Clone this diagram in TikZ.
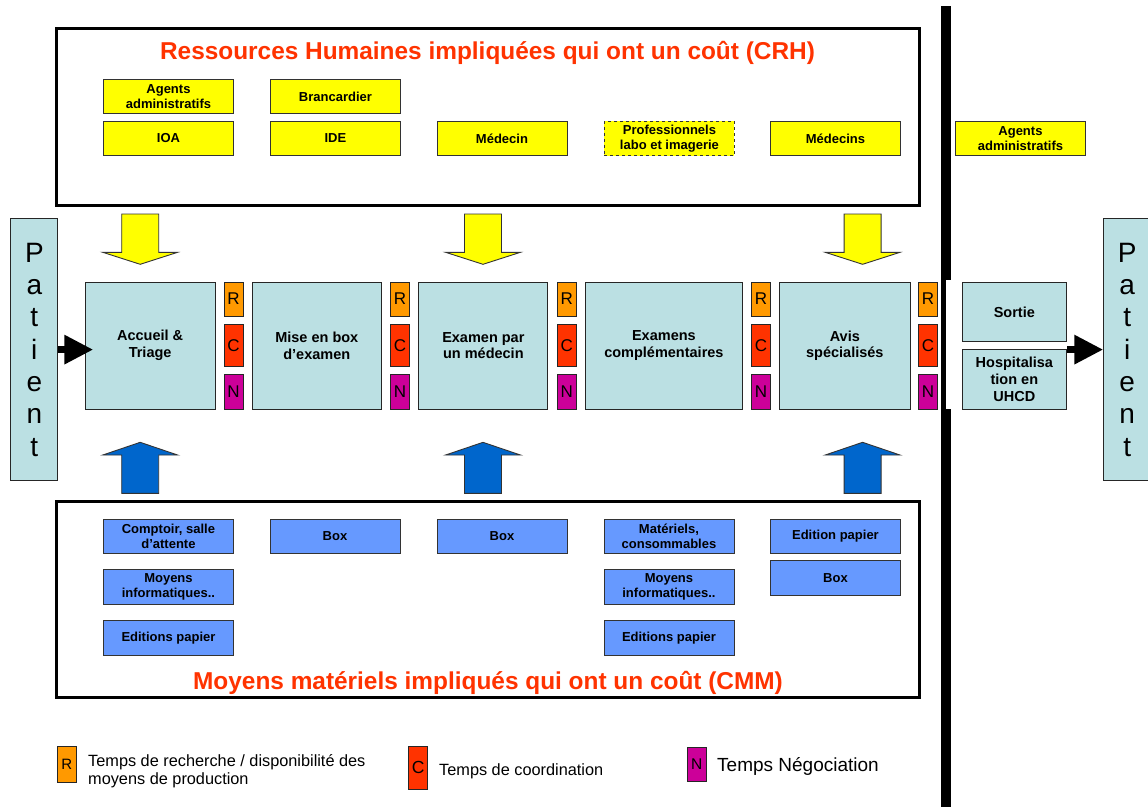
\documentclass[tikz,border=0pt]{standalone}
\usepackage{fontspec}
\setmainfont{Liberation Sans}
\usetikzlibrary{arrows.meta}
\definecolor{procblue}{HTML}{BBE0E3}
\definecolor{boxblue}{HTML}{6699FF}
\definecolor{arrowblue}{HTML}{0066CC}
\definecolor{ryellow}{HTML}{FFFF00}
\definecolor{rorange}{HTML}{FF9900}
\definecolor{cred}{HTML}{FF3300}
\definecolor{nmag}{HTML}{CC0099}
\definecolor{titlered}{HTML}{FF3300}
\definecolor{edgegray}{HTML}{333333}
\begin{document}
\begin{tikzpicture}[x=1pt,y=-1pt,
  frame/.style={draw=black, line width=3pt, anchor=north west, inner sep=0pt},
  titletext/.style={text=titlered, font=\bfseries\fontsize{24.4}{28}\selectfont, anchor=base, inner sep=0pt},
  smallbox/.style={draw=edgegray, line width=0.9pt, minimum width=130pt, minimum height=34.6pt,
     font=\bfseries\fontsize{13}{14.5}\selectfont, align=center, inner sep=0pt, anchor=north west},
  ybox/.style={smallbox, fill=ryellow},
  bbox/.style={smallbox, fill=boxblue},
  proc/.style={draw=black!85, line width=0.9pt, fill=procblue, minimum height=127pt,
     font=\bfseries\fontsize{14.5}{16.8}\selectfont, align=center, inner sep=0pt, anchor=north west},
  rcnbox/.style={draw=black!85, line width=0.8pt, minimum width=19.2pt, inner sep=0pt,
     font=\fontsize{17}{17}\selectfont, anchor=north west},
  legbox/.style={draw=black!85, line width=0.8pt, minimum width=19pt, minimum height=34pt, inner sep=0pt,
     font=\fontsize{15}{15}\selectfont, anchor=north west},
  patient/.style={draw=black!85, line width=0.9pt, fill=procblue, minimum width=47pt, minimum height=261.7pt,
     font=\fontsize{28}{32.3}\selectfont, align=center, inner sep=0pt, anchor=north west},
  bigarrow/.style={line width=7.3pt, -{Triangle[length=29pt,width=27.6pt]}},
  legtext/.style={font=\fontsize{16.3}{18}\selectfont, align=left, inner sep=0pt},
  downblock/.pic={\filldraw[draw=edgegray, fill=ryellow, line width=0.9pt]
     (-18.5,-50.3) -- (18.5,-50.3) -- (18.5,-12) -- (37.4,-12) -- (0,0) -- (-37.4,-12) -- (-18.5,-12) -- cycle;},
  upblock/.pic={\filldraw[draw=edgegray, fill=arrowblue, line width=0.9pt]
     (0,0) -- (37.4,12.7) -- (18.5,12.7) -- (18.5,51) -- (-18.5,51) -- (-18.5,12.7) -- (-37.4,12.7) -- cycle;}
]
\clip (0,0) rectangle (1148,807);
\fill[white] (0,0) rectangle (1148,807);

% vertical separator
\fill[black] (941,6) rectangle (951,807);
\fill[white] (946.2,280) rectangle (952,409.3);

% frames
\node[frame, minimum width=863pt, minimum height=177pt] (crh) at (55,27) {};
\node[frame, minimum width=863pt, minimum height=196pt] (cmm) at (55,500) {};
\node[titletext] (crhtitle) at (487.5,59) {Ressources Humaines impliquées qui ont un coût (CRH)};
\node[titletext] (cmmtitle) at (488,689) {Moyens matériels impliqués qui ont un coût (CMM)};

% human resources
\node[ybox] (agents1) at (103,78.7) {Agents\\administratifs};
\node[ybox] (branc) at (270,78.7) {Brancardier};
\node[ybox] (ioa) at (103,120.7) {IOA};
\node[ybox] (ide) at (270,120.7) {IDE};
\node[ybox] (medecin) at (436.5,120.7) {Médecin};
\node[ybox, dashed] (prof) at (604,120.7) {Professionnels\\labo et imagerie};
\node[ybox] (medecins) at (770,120.7) {Médecins};
\node[ybox] (agents2) at (955,120.7) {Agents\\administratifs};

% material resources
\node[bbox] (comptoir) at (103,518.7) {Comptoir, salle\\d’attente};
\node[bbox] (moyens1) at (103,569.3) {Moyens\\informatiques..};
\node[bbox] (editions1) at (103,620) {Editions papier};
\node[bbox] (box1) at (269.5,518.7) {Box};
\node[bbox] (box2) at (436.5,518.7) {Box};
\node[bbox] (materiels) at (603.5,518.7) {Matériels,\\consommables};
\node[bbox] (moyens2) at (603.5,569.3) {Moyens\\informatiques..};
\node[bbox] (editions2) at (603.5,620) {Editions papier};
\node[bbox] (edition) at (770,518.7) {Edition papier};
\node[bbox] (box3) at (770,560.3) {Box};

% block arrows
\pic at (140.2,264.3) {downblock};
\pic at (483,264.3) {downblock};
\pic at (862.6,264.3) {downblock};
\pic at (140.2,442.3) {upblock};
\pic at (483,442.3) {upblock};
\pic at (862.6,442.3) {upblock};

% process
\node[proc, minimum width=130pt] (accueil) at (84.7,281.7) {Accueil \&\\Triage};
\node[proc, minimum width=129.5pt] (mise) at (251.6,281.7) {Mise en box\\d’examen};
\node[proc, minimum width=129pt] (examen) at (418.4,281.7) {Examen par\\un médecin};
\node[proc, minimum width=157.5pt] (compl) at (584.7,281.7) {Examens\\complémentaires};
\node[proc, minimum width=130.2pt] (avis) at (779.3,281.7) {Avis\\spécialisés};

\foreach \x [count=\i] in {223.5,390,556.8,751,918} {
  \node[rcnbox, fill=rorange, minimum height=34pt] (r\i) at (\x,281.7) {R};
  \node[rcnbox, fill=cred, minimum height=42pt] (c\i) at (\x,324) {C};
  \node[rcnbox, fill=nmag, minimum height=34.4pt] (n\i) at (\x,374.3) {N};
}

\node[proc, minimum width=104.6pt, minimum height=59.6pt] (sortie) at (961.6,281.7) {Sortie};
\node[proc, minimum width=104.6pt, minimum height=59.4pt] (hosp) at (961.6,349.3) {Hospitalisa\\tion en\\UHCD};

% patients
\node[patient] (patL) at (10.4,218.3) {P\\a\\t\\i\\e\\n\\t};
\node[patient] (patR) at (1103.3,218.3) {P\\a\\t\\i\\e\\n\\t};

\draw[bigarrow, shorten >=-8.6pt] (patL.east) -- (patL.east -| accueil.west);
\draw[bigarrow] (hosp.east |- patR.west) -- (patR.west);

% legend
\node[legbox, fill=rorange, minimum height=35.5pt] (legR) at (57,746) {R};
\node[legtext, anchor=west] (legRt) at (88,771) {Temps de recherche / disponibilité des\\moyens de production};
\node[legbox, fill=cred, minimum height=43pt, font=\fontsize{17.5}{17.5}\selectfont] (legC) at (408.3,746) {C};
\node[legtext, anchor=base west] (legCt) at (439,775.5) {Temps de coordination};
\node[legbox, fill=nmag, minimum height=34pt, font=\fontsize{15.5}{15.5}\selectfont] (legN) at (686.7,746.7) {N};
\node[legtext, anchor=base west, font=\fontsize{19}{21}\selectfont] (legNt) at (717,771) {Temps Négociation};
\end{tikzpicture}
\end{document}
